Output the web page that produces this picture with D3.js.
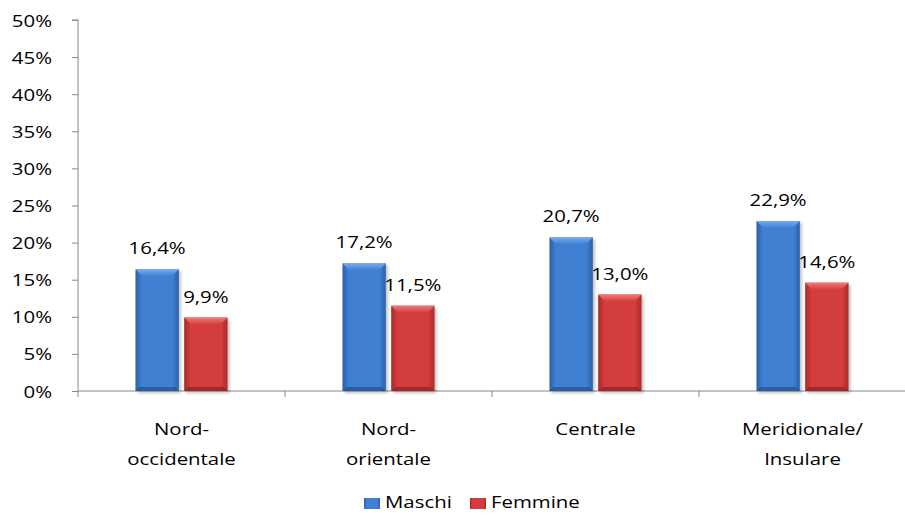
<!DOCTYPE html>
<html>
<head>
<meta charset="utf-8">
<script src="https://cdn.jsdelivr.net/npm/d3@7"></script>
<style>
  body { margin: 0; background: #fff; }
  text { font-family: "Open Sans", sans-serif; fill: #000; }
</style>
</head>
<body>
<div id="chart"></div>
<script>
const categories = [["Nord-", "occidentale"], ["Nord-", "orientale"], ["Centrale"], ["Meridionale/", "Insulare"]];
const seriesNames = ["Maschi", "Femmine"];
const maschi = [16.4, 17.2, 20.7, 22.9];
const femmine = [9.9, 11.5, 13.0, 14.6];
const yTicks = [0, 5, 10, 15, 20, 25, 30, 35, 40, 45, 50];

const width = 905, height = 515;
const margin = { top: 20, right: -1, bottom: 124, left: 78 };
const fontSize = "17px";
const stretch = 1.2; // the reference text is horizontally wide

const svg = d3.select("#chart").append("svg")
    .attr("width", width)
    .attr("height", height);

// helper: place a stretched text at (x, y)
const placeText = (sel, tx, ty) => sel
    .attr("transform", (d, i) => `translate(${tx(d, i)},${ty(d, i)}) scale(${stretch},1)`)
    .style("font-size", fontSize);

const defs = svg.append("defs");
const palette = [
    { name: "blue", edge: "#2d5fa6", mid: "#3f80d3", top: "#78abeb", bottom: "#24508f" },
    { name: "red", edge: "#a82a2a", mid: "#d43d3d", top: "#ee7a7a", bottom: "#8f2222" }
];
palette.forEach(p => {
    const g = defs.append("linearGradient").attr("id", "grad-" + p.name)
        .attr("x1", "0").attr("x2", "1").attr("y1", "0").attr("y2", "0");
    g.append("stop").attr("offset", "0%").attr("stop-color", p.edge);
    g.append("stop").attr("offset", "15%").attr("stop-color", p.mid);
    g.append("stop").attr("offset", "85%").attr("stop-color", p.mid);
    g.append("stop").attr("offset", "100%").attr("stop-color", p.edge);
    const t = defs.append("linearGradient").attr("id", "top-" + p.name)
        .attr("x1", "0").attr("x2", "0").attr("y1", "0").attr("y2", "1");
    t.append("stop").attr("offset", "0%").attr("stop-color", p.top);
    t.append("stop").attr("offset", "100%").attr("stop-color", p.mid);
});
defs.append("filter").attr("id", "shadow")
    .attr("x", "-20%").attr("y", "-10%").attr("width", "150%").attr("height", "130%")
    .append("feDropShadow").attr("dx", 2).attr("dy", 2).attr("stdDeviation", 1.5)
    .attr("flood-color", "#000").attr("flood-opacity", 0.25);

const x = d3.scaleBand()
    .domain(d3.range(categories.length))
    .range([margin.left, width - margin.right])
    .paddingInner(0).paddingOuter(0);

const y = d3.scaleLinear()
    .domain([0, 50])
    .range([height - margin.bottom, margin.top]);

const xSub = d3.scaleBand()
    .domain([0, 1])
    .range([x.bandwidth() * 0.2776, x.bandwidth() * 0.7224])
    .paddingInner(0.11);

// y axis
const yAxis = svg.append("g")
    .attr("transform", `translate(${margin.left},0)`)
    .call(d3.axisLeft(y).tickValues(yTicks).tickSize(6)
        .tickFormat(d => d + "%"));
yAxis.select(".domain").attr("stroke", "#888").attr("d", `M-6,${y(50)}H0V${y(0)}`);
yAxis.selectAll(".tick line").attr("stroke", "#888");
yAxis.selectAll(".tick text")
    .attr("x", null).attr("dy", null)
    .attr("text-anchor", "end")
    .call(placeText, () => -26, () => 6);

// x axis
const xAxisG = svg.append("g").attr("transform", `translate(0,${y(0)})`);
xAxisG.append("line")
    .attr("x1", margin.left).attr("x2", width)
    .attr("y1", 0).attr("y2", 0)
    .attr("stroke", "#888");
xAxisG.selectAll(".xtick")
    .data(d3.range(categories.length + 1))
    .join("line")
    .attr("x1", d => d < categories.length ? x(d) : x(d - 1) + x.bandwidth())
    .attr("x2", d => d < categories.length ? x(d) : x(d - 1) + x.bandwidth())
    .attr("y1", 0).attr("y2", 6)
    .attr("stroke", "#888");

// category labels
const catLines = [];
categories.forEach((lines, i) => lines.forEach((ln, j) => catLines.push({ i, j, ln })));
svg.append("g").selectAll("text")
    .data(catLines)
    .join("text")
    .attr("text-anchor", "middle")
    .call(placeText, d => x(d.i) + x.bandwidth() / 2, d => 435 + d.j * 30)
    .text(d => d.ln);

// bars
const data = [];
categories.forEach((c, i) => {
    [maschi[i], femmine[i]].forEach((v, s) => data.push({ i, s, v }));
});

const bars = svg.append("g").selectAll("g.bar")
    .data(data)
    .join("g")
    .attr("class", "bar");

const bx = d => x(d.i) + xSub(d.s);
const bw = xSub.bandwidth();
const bevel = 7;

bars.append("rect")
    .attr("x", bx)
    .attr("y", d => y(d.v))
    .attr("width", bw)
    .attr("height", d => y(0) - y(d.v))
    .attr("fill", d => `url(#grad-${palette[d.s].name})`)
    .attr("filter", "url(#shadow)");

bars.append("path")
    .attr("d", d => {
        const x0 = bx(d), x1 = x0 + bw, t = y(d.v);
        return `M${x0},${t}H${x1}L${x1 - bevel},${t + bevel}H${x0 + bevel}Z`;
    })
    .attr("fill", d => `url(#top-${palette[d.s].name})`);

bars.append("path")
    .attr("d", d => {
        const x0 = bx(d), x1 = x0 + bw, b = y(0);
        return `M${x0},${b}H${x1}L${x1 - 4},${b - 4}H${x0 + 4}Z`;
    })
    .attr("fill", d => palette[d.s].bottom)
    .attr("opacity", 0.7);

// value labels
bars.append("text")
    .attr("text-anchor", "middle")
    .call(placeText, d => bx(d) + bw / 2, d => y(d.v) - 15)
    .text(d => d.v.toFixed(1).replace(".", ",") + "%");

// legend
const legendX = [364, 470];
const legend = svg.append("g").selectAll("g")
    .data(seriesNames)
    .join("g");
legend.append("rect")
    .attr("x", (d, s) => legendX[s]).attr("y", 498)
    .attr("width", 16).attr("height", 11)
    .attr("fill", (d, s) => `url(#grad-${palette[s].name})`);
legend.append("text")
    .call(placeText, d => legendX[seriesNames.indexOf(d)] + 21, () => 508)
    .text(d => d);
</script>
</body>
</html>
